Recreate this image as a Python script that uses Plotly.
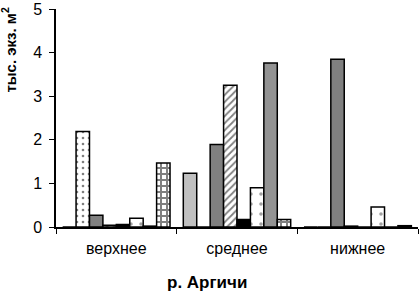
import plotly.graph_objects as go

categories = ["верхнее", "среднее", "нижнее"]

s1 = [0.0, 1.23, 0.0]      # light gray
s2 = [2.19, 0.0, 0.0]      # dotted
s3 = [0.27, 1.89, 3.85]    # dark gray
s4 = [0.04, 3.25, 0.02]    # hatched
s5 = [0.06, 0.17, 0.0]     # black
s6 = [0.2, 0.9, 0.46]      # sparse marks
s7 = [0.02, 3.76, 0.0]     # gray
s8 = [1.47, 0.17, 0.03]    # checkered

y_title = "тыс. экз. м<sup>2</sup>"
x_title = "р. Аргичи"

series = [s1, s2, s3, s4, s5, s6, s7, s8]
styles = [
    dict(color="#c0c0c0"),
    dict(color="white", pattern=dict(shape=".", fgcolor="black", bgcolor="white", size=6, solidity=0.15)),
    dict(color="#808080"),
    dict(color="white", pattern=dict(shape="/", fgcolor="black", bgcolor="white", size=5, solidity=0.35)),
    dict(color="black"),
    dict(color="white", pattern=dict(shape=".", fgcolor="#444", bgcolor="white", size=10, solidity=0.1)),
    dict(color="#939393"),
    dict(color="white", pattern=dict(shape="+", fgcolor="black", bgcolor="white", size=6, solidity=0.55)),
]

fig = go.Figure()
for vals, st in zip(series, styles):
    m = dict(st)
    m["line"] = dict(color="black", width=1.5)
    fig.add_trace(go.Bar(x=categories, y=vals, marker=m, showlegend=False))

fig.update_layout(
    width=419, height=293,
    margin=dict(l=56, r=1, t=9, b=66),
    paper_bgcolor="white", plot_bgcolor="white",
    barmode="group", bargap=0.11, bargroupgap=0,
    font=dict(family="Liberation Sans, Arial, sans-serif", color="black"),
    xaxis=dict(
        automargin=False,
        showline=True, linecolor="black", linewidth=1.5,
        ticks="outside", tickson="boundaries", ticklen=5, tickcolor="black",
        tickfont=dict(size=16), showgrid=False, ticklabelstandoff=6,
    ),
    yaxis=dict(
        automargin=False,
        range=[0, 5], dtick=1, showline=True, linecolor="black", linewidth=1.5,
        ticks="outside", ticklen=5, tickcolor="black", showgrid=False, zeroline=False,
        tickfont=dict(size=16), ticklabelstandoff=4,
    ),
    annotations=[
        dict(
            text="<b>" + y_title + "</b>", textangle=-90, xref="paper", yref="paper",
            x=-0.13, y=1.02, xanchor="center", yanchor="top", showarrow=False,
            font=dict(size=15),
        ),
        dict(
            text="<b>" + x_title + "</b>", xref="paper", yref="paper",
            x=0.418, y=-0.255, xanchor="center", yanchor="middle", showarrow=False,
            font=dict(size=17),
        ),
    ],
)

fig.write_html("out.html", config={"displayModeBar": False},
               post_script="document.body.style.margin='0';")
